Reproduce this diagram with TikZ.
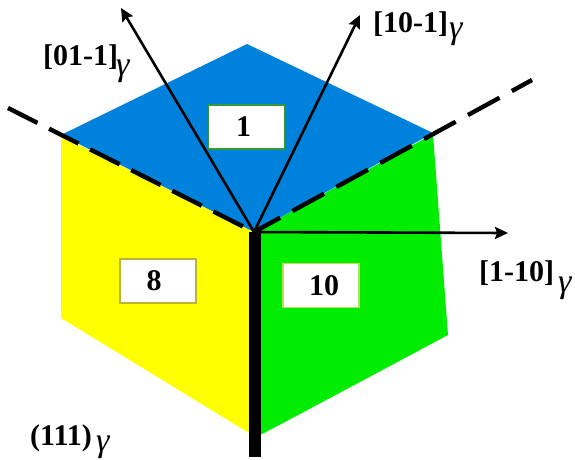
\documentclass[tikz,border=0pt]{standalone}
\usepackage{fontspec}
\setmainfont{Liberation Serif}
\usetikzlibrary{arrows.meta}
\tikzset{
  x=1pt,y=-1pt,
  face/.style={draw=none},
  axisline/.style={line width=2.6pt,-{Stealth[length=13pt,width=12pt,inset=2pt]}},
  traceleft/.style={line width=4.4pt,dash pattern=on 33pt off 13pt},
  traceright/.style={line width=4.4pt,dash pattern=on 36pt off 14pt,dash phase=13pt},
  numbox/.style={fill=white,line width=1.2pt,inner sep=0pt,minimum width=76pt,minimum height=44pt,font=\fontsize{30}{32}\selectfont\bfseries},
  lbl/.style={anchor=base west,inner sep=0pt,font=\fontsize{30}{32}\selectfont\bfseries},
  gam/.style={anchor=base west,inner sep=0pt,font=\fontsize{34}{36}\selectfont\itshape}
}
\definecolor{faceblue}{RGB}{0,130,220}
\definecolor{faceyellow}{RGB}{255,255,0}
\definecolor{facegreen}{RGB}{0,236,0}
\begin{document}
\begin{tikzpicture}
\useasboundingbox (0,0) rectangle (575,459);
\clip (0,0) rectangle (575,459);
\coordinate (c) at (254,232);
\coordinate (tl) at (8,108);
\coordinate (tr) at (532,80);
\coordinate (a1) at (121,8);
\coordinate (a2) at (360,15);
\coordinate (a3) at (508,233);
\coordinate (b0) at (255,232);
\coordinate (b1) at (255,457);
\fill[faceyellow,face] (61,136) -- (c) -- (255,436) -- (249,433) -- (61,318) -- cycle;
\fill[facegreen,face] (433,134) -- (c) -- (255,436) -- (262,434) -- (285,422) -- (448,335) -- cycle;
\fill[faceblue,face] (247,44) -- (433,133) -- (c) -- (61,135) -- cycle;
\draw[traceleft] (tl) -- (c);
\draw[traceright] (tr) -- (c);
\draw[axisline] (c) -- (a1);
\draw[axisline] (c) -- (a2);
\draw[axisline] (c) -- (a3);
\draw[line width=12pt] (b0) -- (b1);
\node[numbox,draw=green!50!black!80] (n1) at (246.5,127) {1\kern6pt};
\node[numbox,draw=yellow!70!black] (n8) at (158,281) {8\kern8pt};
\node[numbox,draw=yellow!60!green!70!white] (n10) at (321,285.5) {\kern6pt10};
\node[lbl] (l1) at (43,65) {[01-1]};
\node[gam] (g1) at (116,75) {γ};
\node[lbl] (l2) at (373,32) {[10-1]};
\node[gam] (g2) at (449,38) {γ};
\node[lbl] (l3) at (479,281) {[1-10]};
\node[gam] (g3) at (558,292) {γ};
\node[lbl] (l4) at (30,445) {(111)};
\node[gam] (g4) at (96,451) {γ};
\end{tikzpicture}
\end{document}
